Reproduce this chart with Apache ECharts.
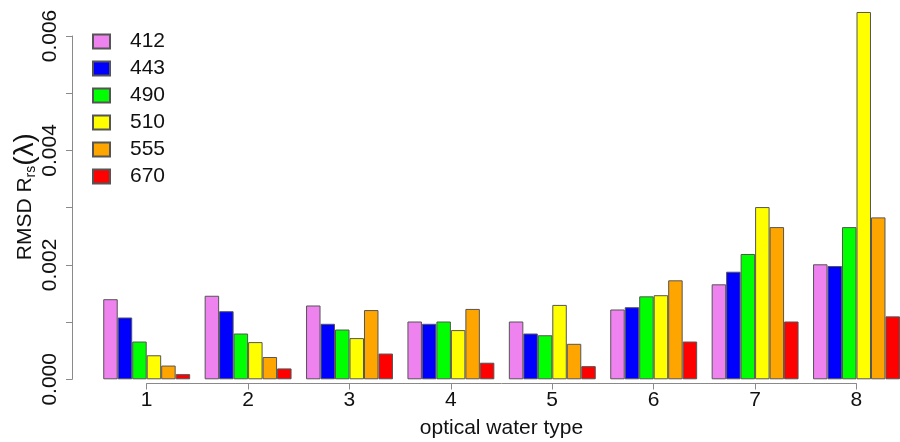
<!DOCTYPE html>
<html>
<head>
<meta charset="utf-8">
<script src="https://cdn.jsdelivr.net/npm/echarts@6/dist/echarts.min.js"></script>
<style>
html,body{margin:0;padding:0;background:#fff;}
#chart{width:900px;height:442px;}
</style>
</head>
<body>
<div id="chart"></div>
<script>
var categories = ['1', '2', '3', '4', '5', '6', '7', '8'];
var seriesNames = ['412', '443', '490', '510', '555', '670'];
var colors = ['#EE82EE', '#0000FF', '#00FF00', '#FFFF00', '#FFA500', '#FF0000'];
var v412 = [0.00140, 0.00146, 0.00129, 0.00101, 0.00101, 0.00122, 0.00166, 0.00201];
var v443 = [0.00108, 0.00119, 0.00097, 0.00097, 0.00080, 0.00126, 0.00188, 0.00198];
var v490 = [0.00066, 0.00080, 0.00087, 0.00101, 0.00077, 0.00145, 0.00219, 0.00266];
var v510 = [0.00042, 0.00065, 0.00072, 0.00086, 0.00130, 0.00147, 0.00301, 0.00642];
var v555 = [0.00024, 0.00039, 0.00121, 0.00123, 0.00062, 0.00173, 0.00266, 0.00283];
var v670 = [0.00009, 0.00019, 0.00045, 0.00029, 0.00023, 0.00066, 0.00101, 0.00110];
var yTicks = [0, 0.001, 0.002, 0.003, 0.004, 0.005, 0.006];
var xTicks = [1, 2, 3, 4, 5, 6, 7, 8];

var allValues = [v412, v443, v490, v510, v555, v670];
var FONT = 'Liberation Sans, Arial, Helvetica, sans-serif';
var axisGray = '#8a8a8a';

var series = seriesNames.map(function (name, i) {
  return {
    name: name,
    type: 'bar',
    xAxisIndex: 0,
    yAxisIndex: 0,
    data: allValues[i],
    barGap: '0%',
    barCategoryGap: (100 / 7) + '%',
    clip: false,
    itemStyle: { color: colors[i], borderColor: '#555', borderWidth: 1 },
    emphasis: { disabled: true }
  };
});

var chart = echarts.init(document.getElementById('chart'), null, { renderer: 'canvas' });
chart.setOption({
  animation: false,
  backgroundColor: '#ffffff',
  textStyle: { fontFamily: FONT },
  legend: {
    orient: 'vertical',
    left: 87,
    top: 26,
    itemWidth: 17,
    itemHeight: 14,
    itemGap: 6,
    icon: 'rect',
    data: seriesNames,
    textStyle: { fontSize: 21, color: '#111', fontFamily: FONT, padding: [0, 0, 0, 15] }
  },
  grid: [
    { left: 96, width: 811.2, top: 36, bottom: 62.7, containLabel: false, outerBoundsMode: 'none' },
    { left: 146.6, width: 709.8, top: 36, bottom: 58.5, containLabel: false, outerBoundsMode: 'none' }
  ],
  xAxis: [
    {
      type: 'category', gridIndex: 0, data: categories,
      axisLine: { show: false }, axisTick: { show: false }, axisLabel: { show: false },
      splitLine: { show: false }
    },
    {
      type: 'value', gridIndex: 1, min: xTicks[0], max: xTicks[xTicks.length - 1], interval: 1,
      axisLine: { show: true, lineStyle: { color: axisGray, width: 1 } },
      axisTick: { show: true, length: 6, lineStyle: { color: axisGray } },
      axisLabel: { fontSize: 21, color: '#111', margin: 6, fontFamily: FONT },
      splitLine: { show: false },
      name: 'optical water type',
      nameLocation: 'middle',
      nameGap: 34,
      nameMoveOverlap: false,
      nameTextStyle: { fontSize: 21, color: '#111', fontFamily: FONT }
    }
  ],
  yAxis: [
    {
      type: 'value', gridIndex: 0, min: yTicks[0], max: yTicks[yTicks.length - 1], interval: 0.001,
      offset: 24,
      axisLine: { show: true, lineStyle: { color: axisGray, width: 1 } },
      axisTick: { show: true, length: 6, lineStyle: { color: axisGray } },
      axisLabel: {
        rotate: 90, fontSize: 21, color: '#111', margin: 11, fontFamily: FONT,
        formatter: function (v) {
          return Math.round(v * 1000) % 2 === 0 ? v.toFixed(3) : '';
        }
      },
      splitLine: { show: false },
      name: '{a|RMSD R}{s|rs}{p|(λ)}',
      nameLocation: 'middle',
      nameGap: 33,
      nameMoveOverlap: false,
      nameTextStyle: {
        color: '#111',
        fontFamily: FONT,
        padding: [0, 0, 0, 22],
        rich: {
          a: { fontSize: 21, color: '#111', fontFamily: FONT },
          s: { fontSize: 14, color: '#111', fontFamily: FONT, padding: [12, 0, 0, 0] },
          p: { fontSize: 28, color: '#111', fontFamily: FONT }
        }
      }
    },
    { type: 'value', gridIndex: 1, show: false, min: 0, max: 1 }
  ],
  series: series
});
</script>
</body>
</html>
